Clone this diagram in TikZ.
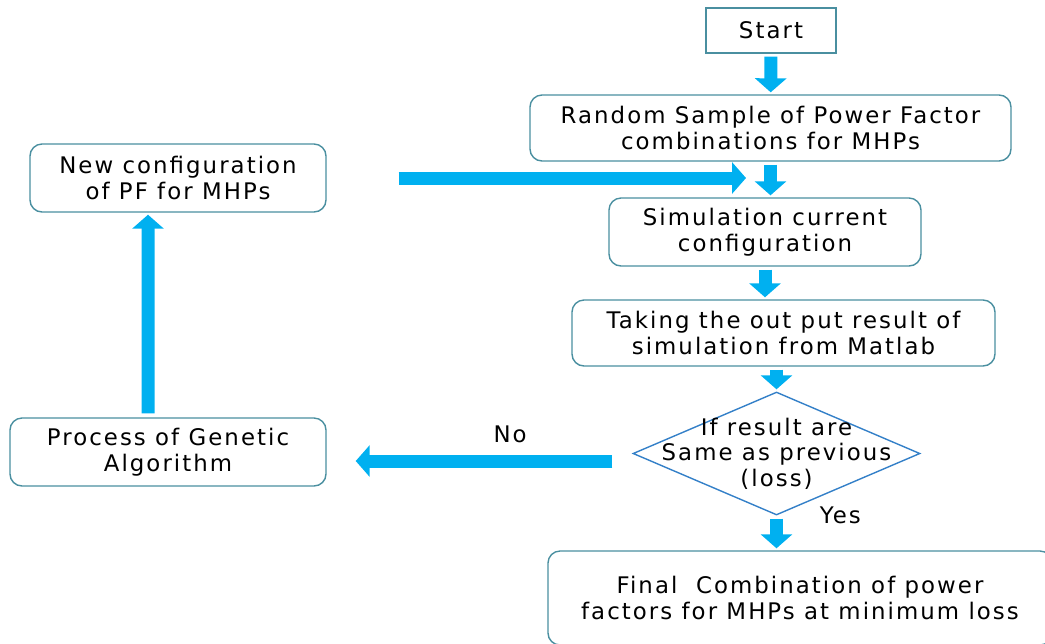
\documentclass[tikz,border=0pt]{standalone}
\usepackage{fontspec}
\newfontfamily\flowfont[LetterSpace=9]{DejaVu Sans}
\usepackage{xcolor}
\usetikzlibrary{shapes,arrows,positioning,calc,arrows.meta}
\definecolor{flowblue}{RGB}{0,176,240}
\definecolor{boxedge}{RGB}{74,143,160}
\definecolor{diaedge}{RGB}{52,128,200}

\begin{document}
\begin{tikzpicture}[
    font=\flowfont\fontsize{13}{14.6}\selectfont,
    stepbox/.style={draw=boxedge, line width=0.8pt, rounded corners=0.24cm, align=center, inner sep=0pt},
    startbox/.style={draw=boxedge, line width=0.8pt, align=center, inner sep=0pt},
    decision/.style={diamond, draw=diaedge, line width=0.8pt, inner sep=0pt},
    flow/.style={draw=flowblue, line width=0.26cm, -{Triangle[width=0.62cm,length=0.28cm]}, shorten <=0.06cm, shorten >=0.04cm}]
    \useasboundingbox (0,0) rectangle (20.9,-12.86);

    % Main column
    \node[startbox, minimum width=2.6cm, minimum height=0.9cm] (start) at (15.42,-0.61) {Start};
    \node[stepbox, minimum width=9.62cm, minimum height=1.32cm] (rand) at (15.41,-2.56) {Random Sample of Power Factor\\combinations for MHPs};
    \node[stepbox, minimum width=6.24cm, minimum height=1.36cm] (sim) at (15.30,-4.64) {Simulation current\\configuration};
    \node[stepbox, minimum width=8.46cm, minimum height=1.32cm] (take) at (15.67,-6.66) {Taking the out put result of\\simulation from Matlab};
    \node[decision, minimum width=5.74cm, minimum height=2.46cm] (dec) at (15.53,-9.07) {};
    \node[align=center] (dectext) at (dec) {If result are\\Same as previous\\(loss)};
    \node[stepbox, minimum width=10.08cm, minimum height=1.88cm] (final) at (16.0,-11.96) {Final~ Combination of power\\factors for MHPs at minimum loss};

    % Loop back
    \node[stepbox, minimum width=6.32cm, minimum height=1.36cm] (ga) at (3.36,-9.04) {Process of Genetic\\Algorithm};
    \node[stepbox, minimum width=5.92cm, minimum height=1.36cm] (newc) at (3.56,-3.56) {New configuration\\of PF for MHPs};
    \coordinate (merge) at (14.96,-3.56);

    % Arrows
    \draw[flow] (start) -- (rand);
    \draw[flow] (rand.south) -- (rand.south |- sim.north);
    \draw[flow] (sim.south) -- (sim.south |- take.north);
    \draw[flow] (take.south -| dec.north) -- (dec.north);
    \draw[flow] (dec.south) -- (dec.south |- final.north) node[pos=0, anchor=west, xshift=0.62cm] {Yes};
    \draw[flow, shorten <=0.4cm, shorten >=0.58cm] ([yshift=-0.15cm]dec.west) -- ([yshift=-0.15cm]dec.west -| ga.east) node[pos=0.4, above=0.12cm] {No};
    \draw[flow, shorten <=0.08cm] ([xshift=-0.4cm]ga.north) -- ([xshift=-0.6cm]newc.south);
    \draw[flow, shorten <=1.44cm] (newc.east) -- (merge);
\end{tikzpicture}
\end{document}
